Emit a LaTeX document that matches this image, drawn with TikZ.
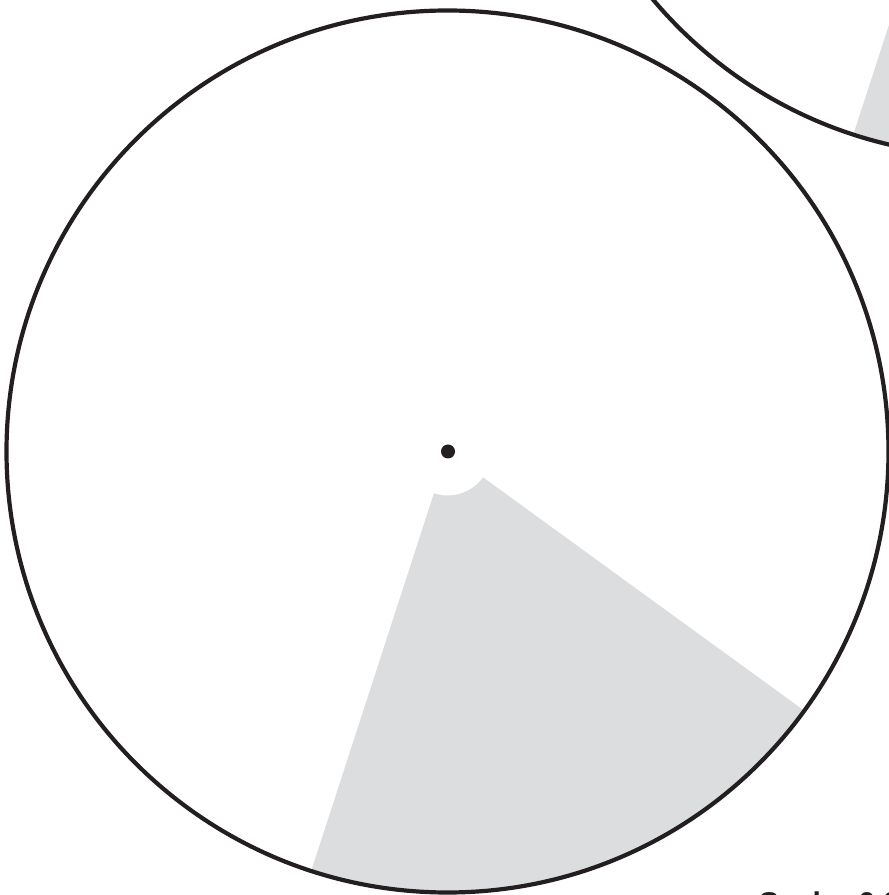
\documentclass[tikz,border=0pt]{standalone}
\usepackage{fontspec}
\setmainfont{Liberation Sans}
\usetikzlibrary{calc}
\definecolor{sectorgray}{RGB}{220,221,223}
\definecolor{ink}{RGB}{35,31,32}
\tikzset{
  rim/.style={draw=ink, line width=4.2pt},
  wedge/.style={fill=sectorgray},
  hub/.style={fill=ink},
  caption/.style={font=\bfseries\fontsize{30}{36}\selectfont, text=ink, inner sep=0pt, anchor=base west}
}
\begin{document}
\begin{tikzpicture}[x=1pt,y=1pt]
\useasboundingbox (0,0) rectangle (889,895);
\clip (0,0) rectangle (889,895);
\fill[white] (0,0) rectangle (889,895);
% main disc
\coordinate (c) at (447.5,443.5);
\fill[wedge] ($(c)+(252:44)$) -- ($(c)+(252:441)$) arc[start angle=252,end angle=324,radius=441]
  -- ($(c)+(324:44)$) arc[start angle=324,end angle=252,radius=44] -- cycle;
\draw[rim] (c) circle[radius=441];
\fill[hub] ($(c)+(0.5,0)$) circle[radius=7];
% second disc, top right
\coordinate (d) at (989,1178);
\fill[wedge] ($(d)+(252:44)$) -- ($(d)+(252:441)$) arc[start angle=252,end angle=324,radius=441]
  -- ($(d)+(324:44)$) arc[start angle=324,end angle=252,radius=44] -- cycle;
\draw[rim] (d) circle[radius=439];
% caption (clipped at the bottom edge)
\node[caption] (cap) at (759,-19) {Scale: 0.8};
\end{tikzpicture}
\end{document}
